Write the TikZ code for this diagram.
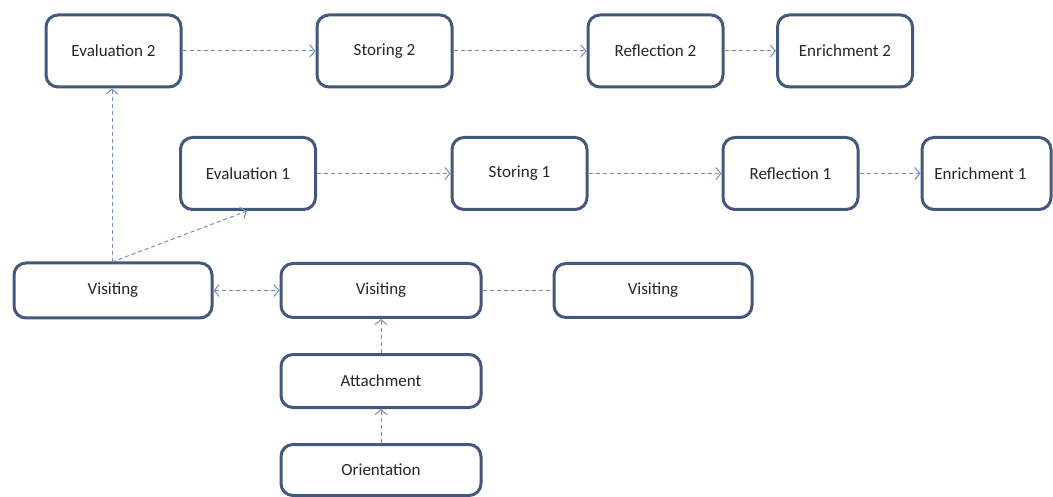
\documentclass[tikz,border=0pt]{standalone}
\usepackage{fontspec}
\setmainfont{Carlito}
\usetikzlibrary{arrows.meta}
\definecolor{boxc}{HTML}{43597C}
\definecolor{arrc}{HTML}{6F8FBE}
\begin{document}
\begin{tikzpicture}[x=1pt,y=-1pt,
  box/.style={draw=boxc, line width=3pt, rounded corners=12pt, fill=white,
    minimum width=#1, minimum height=72pt, inner sep=0pt, font=\fontsize{17}{20}\selectfont, text=black!85},
  box/.default=135pt,
  conn/.style={draw=arrc, line width=1pt, dash pattern=on 4pt off 3pt},
  tip/.style={-{Straight Barb[length=5pt,width=12pt,line width=1pt]}}
]
\useasboundingbox (0,0) rectangle (1053,497);
% top row
\node[box] (ev2) at (113.5,51) {Evaluation 2};
\node[box] (st2) at (384.5,51) {Storing 2};
\node[box] (re2) at (655.5,51) {Reflection 2};
\node[box] (en2) at (845,51) {Enrichment 2};
% middle row
\node[box] (ev1) at (248,173.5) {Evaluation 1};
\node[box] (st1) at (519.5,173.5) {Storing 1};
\node[box] (re1) at (790.5,173.5) {Reflection 1};
\node[box=129pt] (en1) at (986.5,173.5) {\hspace*{-12pt}Enrichment 1};
% visiting row
\node[box=198pt, minimum height=55pt] (vl) at (113,290.5) {Visiting};
\node[box=200pt, minimum height=54pt] (vm) at (381,290.5) {Visiting};
\node[box=198pt, minimum height=54pt] (vr) at (653,290.5) {Visiting};
\node[box=200pt, minimum height=53pt] (at) at (381,381) {Attachment};
\node[box=200pt, minimum height=51pt] (or) at (381,470) {Orientation};
% connectors
\draw[conn,tip] (ev2) -- (st2);
\draw[conn,tip] (st2) -- (re2);
\draw[conn,tip] (re2) -- (en2);
\draw[conn,tip] (ev1) -- (st1);
\draw[conn,tip] (st1) -- (re1);
\draw[conn,tip] (re1) -- (en1);
\coordinate (vtop) at (112,262);
\coordinate (e1b) at (247,211);
\draw[conn,tip] (vtop) -- (ev2.south -| vtop);
\draw[conn,tip] (vtop) -- (e1b);
\draw[conn,{Straight Barb[length=5pt,width=12pt,line width=1pt]}-{Straight Barb[length=5pt,width=12pt,line width=1pt]}] (vl) -- (vm);
\draw[conn] (vm) -- (vr);
\draw[conn,tip] (at) -- (vm);
\draw[conn,tip] (or) -- (at);
\end{tikzpicture}
\end{document}
